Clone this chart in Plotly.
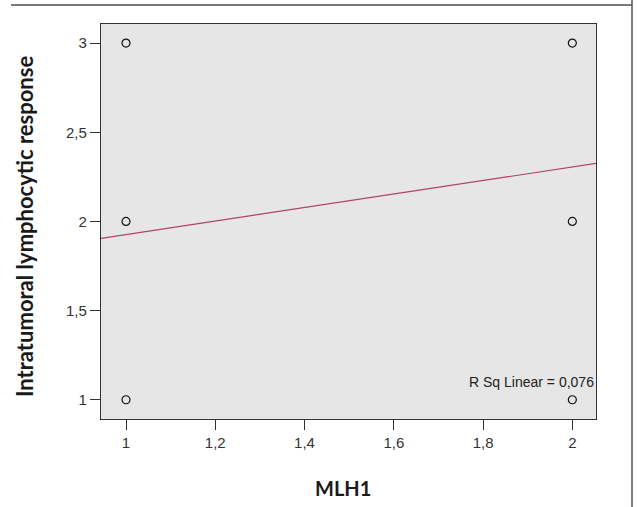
import plotly.graph_objects as go

# ---- data ----
mlh1 = [1, 1, 1, 2, 2, 2]
response = [1, 2, 3, 1, 2, 3]
fit_x = [0.944, 2.053]
fit_y = [1.905, 2.325]
x_ticks = [1, 1.2, 1.4, 1.6, 1.8, 2]
x_ticklabels = ["1", "1,2", "1,4", "1,6", "1,8", "2"]
y_ticks = [1, 1.5, 2, 2.5, 3]
y_ticklabels = ["1", "1,5", "2", "2,5", "3"]
r2_label = "R Sq Linear = 0,076"
x_title = "MLH1"
y_title = "Intratumoral lymphocytic response"

W, H = 637, 507
L, R, T, B = 101, 41, 24, 88
pw, ph = W - L - R, H - T - B

def px(xp):
    return (xp - L) / pw

def py(yp):
    return (H - B - yp) / ph

fig = go.Figure()
fig.add_trace(go.Scatter(
    x=fit_x, y=fit_y, mode="lines",
    line=dict(color="#b0406e", width=1.2),
    hoverinfo="skip", showlegend=False,
))
fig.add_trace(go.Scatter(
    x=mlh1, y=response, mode="markers",
    marker=dict(symbol="circle-open", size=8, color="#111111", line=dict(width=1.2)),
    showlegend=False,
))

tickfont = dict(family="Liberation Sans, Arial, sans-serif", size=15, color="#333333")
fig.update_xaxes(
    range=[0.944, 2.053], tickvals=x_ticks, ticktext=x_ticklabels,
    showgrid=False, zeroline=False, showline=True, mirror=True,
    linecolor="#333333", linewidth=1.2, ticks="outside", ticklen=10,
    tickcolor="#333333", tickfont=tickfont,
)
fig.update_yaxes(
    range=[0.892, 3.107], tickvals=y_ticks, ticktext=y_ticklabels,
    showgrid=False, zeroline=False, showline=True, mirror=True,
    linecolor="#333333", linewidth=1.2, ticks="outside", ticklen=10,
    tickcolor="#333333", tickfont=tickfont,
)

fig.update_layout(
    width=W, height=H,
    margin=dict(l=L, r=R, t=T, b=B),
    plot_bgcolor="#e6e6e6", paper_bgcolor="white",
    annotations=[
        dict(text="<b>" + y_title + "</b>", xref="paper", yref="paper",
             x=px(24), y=py(227), textangle=-90, showarrow=False,
             xanchor="center", yanchor="middle",
             font=dict(family="Lato, Calibri, sans-serif", size=22, color="#1a1a1a")),
        dict(text="<b>" + x_title + "</b>", xref="paper", yref="paper",
             x=px(343), y=py(488), showarrow=False,
             xanchor="center", yanchor="middle",
             font=dict(family="Lato, Calibri, sans-serif", size=20, color="#1a1a1a")),
        dict(text=r2_label, xref="paper", yref="paper",
             x=px(467), y=py(382), showarrow=False,
             xanchor="left", yanchor="middle",
             font=dict(family="Liberation Sans, Arial", size=14, color="#222222")),
    ],
    shapes=[
        dict(type="line", xref="paper", yref="paper",
             x0=px(11), x1=px(632), y0=py(5), y1=py(5),
             line=dict(color="#7a7a7a", width=2)),
        dict(type="line", xref="paper", yref="paper",
             x0=px(632), x1=px(632), y0=py(0), y1=py(507),
             line=dict(color="#555555", width=1.5)),
    ],
)

fig.write_html("out.html", config={"displayModeBar": False},
               post_script="document.body.style.margin='0';")
